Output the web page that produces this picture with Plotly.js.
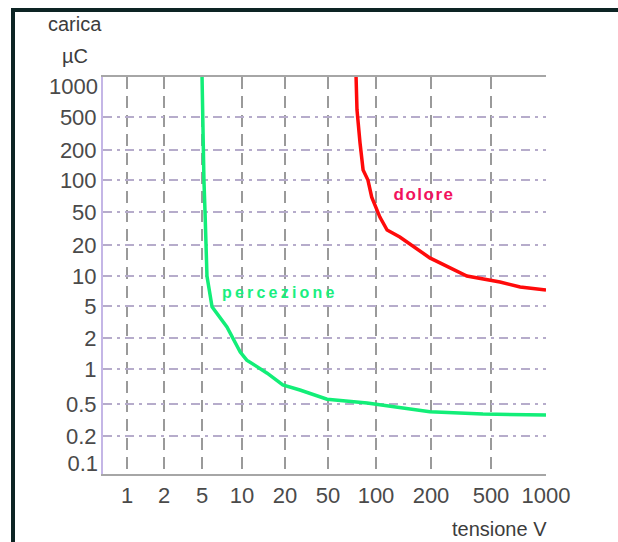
<!DOCTYPE html>
<html>
<head>
<meta charset="utf-8">
<script src="https://cdn.plot.ly/plotly-3.0.1.min.js"></script>
<style>
  html, body { margin: 0; padding: 0; background: #ffffff; }
  #frame { position: absolute; left: 11px; top: 8px; width: 620px; height: 560px;
           border-top: 4px solid #0d2424; border-left: 4px solid #0d2424; }
  #chart { position: absolute; left: 0; top: 0; width: 618px; height: 542px; }
  .annotation[data-index="0"] text { letter-spacing: 3.2px; }
  .annotation[data-index="1"] text { letter-spacing: 1.5px; }
</style>
</head>
<body>
<div id="frame"></div>
<div id="chart"></div>
<script>
// ---- tick labels (voltage in V, charge in µC) ----
const xTickValues = [1, 2, 5, 10, 20, 50, 100, 200, 500, 1000];
const xTickLabels = ['1', '2', '5', '10', '20', '50', '100', '200', '500', '1000'];
const yTickValues = [0.1, 0.2, 0.5, 1, 2, 5, 10, 20, 50, 100, 200, 500, 1000];
const yTickLabels = ['0.1', '0.2', '0.5', '1', '2', '5', '10', '20', '50', '100', '200', '500', '1000'];

// printed (non-uniform) scale: where each tick sits along its axis
const xTickPos = [0, 3.7, 7.5, 11.5, 15.8, 20.1, 24.9, 30.4, 36.4, 41.9];
const yTickPos = [1.1, 3.8, 7.0, 10.5, 13.6, 16.8, 19.8, 22.9, 26.2, 29.4, 32.4, 35.7, 38.8];

// ---- series: percezione (perception threshold) ----
const percVolt   = [5.0, 5.05, 5.1, 5.17, 5.27, 5.35, 5.45, 5.95, 7.7, 9.7, 10.8, 15, 19.3, 27.5, 49, 88, 135, 197, 442, 1000];
const percCharge = [1300, 500, 200, 100, 50, 20, 10, 4.9, 2.74, 1.46, 1.22, 0.92, 0.73, 0.66, 0.55, 0.51, 0.45, 0.40, 0.375, 0.365];

// ---- series: dolore (pain threshold) ----
const doloreVolt   = [74.9, 76, 79.4, 83, 89, 94, 105, 115, 135, 197, 346, 560, 722, 1000];
const doloreCharge = [1300, 585, 243, 126, 100, 69, 43.4, 30.3, 25, 15, 10, 8.7, 7.75, 7.24];

// map a value onto the printed scale (log interpolation between neighbouring ticks)
function scaleTo(v, ticks, pos) {
  const lv = Math.log10(v);
  let i = 0;
  while (i < ticks.length - 2 && lv > Math.log10(ticks[i + 1])) i++;
  const l0 = Math.log10(ticks[i]), l1 = Math.log10(ticks[i + 1]);
  const f = (lv - l0) / (l1 - l0);
  return pos[i] + f * (pos[i + 1] - pos[i]);
}
const mx = v => scaleTo(v, xTickValues, xTickPos);
const my = v => scaleTo(v, yTickValues, yTickPos);

const inner = [1, yTickPos.length - 1];   // gridded ticks (0.2 … 500)
const outer = [0, yTickPos.length - 1];   // ungridded end ticks (0.1, 1000)

const traces = [
  {
    x: percVolt.map(mx), y: percCharge.map(my),
    customdata: percVolt.map((v, i) => [v, percCharge[i]]),
    mode: 'lines', type: 'scatter', name: 'percezione',
    line: { color: '#12ee78', width: 3.5 },
    hovertemplate: '%{customdata[0]} V, %{customdata[1]} µC<extra>percezione</extra>'
  },
  {
    x: doloreVolt.map(mx), y: doloreCharge.map(my),
    customdata: doloreVolt.map((v, i) => [v, doloreCharge[i]]),
    mode: 'lines', type: 'scatter', name: 'dolore',
    line: { color: '#ff0a0a', width: 3.5 },
    hovertemplate: '%{customdata[0]} V, %{customdata[1]} µC<extra>dolore</extra>'
  },
  { // carrier for the end-tick axis (nothing visible)
    x: [xTickPos[0]], y: [yTickPos[0]], yaxis: 'y2',
    mode: 'markers', type: 'scatter', marker: { opacity: 0 }, hoverinfo: 'skip'
  }
];

const tickFont = { family: 'Liberation Sans, Arial, sans-serif', size: 22, color: '#4a4a4a' };
const yRange = [0, 39.7];

const layout = {
  width: 618, height: 542, autosize: false,
  margin: { l: 103, r: 72, t: 77, b: 68, pad: 0 },
  paper_bgcolor: 'rgba(0,0,0,0)', plot_bgcolor: 'rgba(0,0,0,0)',
  showlegend: false,
  xaxis: {
    type: 'linear', range: [-2.4, 41.9], autorange: false, fixedrange: true,
    tickmode: 'array', tickvals: xTickPos, ticktext: xTickLabels,
    showgrid: true, gridcolor: '#9a9a9a', gridwidth: 2, griddash: '12px,7px',
    showline: true, mirror: true, linecolor: '#a6a6a6', linewidth: 2,
    zeroline: false, ticks: '', ticklabelstandoff: 1, tickfont: tickFont
  },
  yaxis: {
    type: 'linear', range: yRange, autorange: false, fixedrange: true,
    tickmode: 'array', tickvals: yTickPos.slice(inner[0], inner[1]),
    ticktext: yTickLabels.slice(inner[0], inner[1]),
    showgrid: true, gridcolor: '#b6accb', gridwidth: 2, griddash: '9px,5px,3px,5px',
    showline: true, linecolor: '#c4b6e6', linewidth: 2,
    zeroline: false, ticks: '', ticklabelstandoff: 0, tickfont: tickFont
  },
  yaxis2: {
    type: 'linear', overlaying: 'y', anchor: 'x', side: 'left',
    range: yRange, autorange: false, fixedrange: true,
    tickmode: 'array', tickvals: outer.map(i => yTickPos[i]),
    ticktext: outer.map(i => yTickLabels[i]),
    showticklabels: true,
    showgrid: false, showline: false, zeroline: false, ticks: '',
    ticklabelstandoff: 4, tickfont: tickFont
  },
  yaxis3: {
    type: 'linear', overlaying: 'y', anchor: 'x', side: 'right',
    range: yRange, autorange: false, fixedrange: true,
    showticklabels: false, ticks: '', showgrid: false, zeroline: false,
    showline: true, linecolor: '#a6a6a6', linewidth: 2
  },
  annotations: [
    { text: 'percezione', xref: 'paper', yref: 'paper', x: 0.300, y: 0.458,
      xanchor: 'left', yanchor: 'middle', showarrow: false,
      font: { family: 'Liberation Sans, Arial, sans-serif', size: 16, weight: 'bold', color: '#1aef80' } },
    { text: 'dolore', xref: 'paper', yref: 'paper', x: 0.662, y: 0.703,
      xanchor: 'left', yanchor: 'middle', showarrow: false,
      font: { family: 'Liberation Sans, Arial, sans-serif', size: 17, weight: 'bold', color: '#f2125c' } },
    { text: 'carica', xref: 'paper', yref: 'paper', x: -0.063, y: 1.133,
      xanchor: 'center', yanchor: 'middle', showarrow: false,
      font: { family: 'Liberation Sans, Arial, sans-serif', size: 20, color: '#3c3c3c' } },
    { text: 'µC', xref: 'paper', yref: 'paper', x: -0.063, y: 1.053,
      xanchor: 'center', yanchor: 'middle', showarrow: false,
      font: { family: 'Liberation Sans, Arial, sans-serif', size: 20, color: '#3c3c3c' } },
    { text: 'tensione V', xref: 'paper', yref: 'paper', x: 0.896, y: -0.139,
      xanchor: 'center', yanchor: 'middle', showarrow: false,
      font: { family: 'Liberation Sans, Arial, sans-serif', size: 20, color: '#3c3c3c' } }
  ]
};

Plotly.newPlot('chart', traces, layout, { displayModeBar: false, staticPlot: true });
</script>
</body>
</html>
